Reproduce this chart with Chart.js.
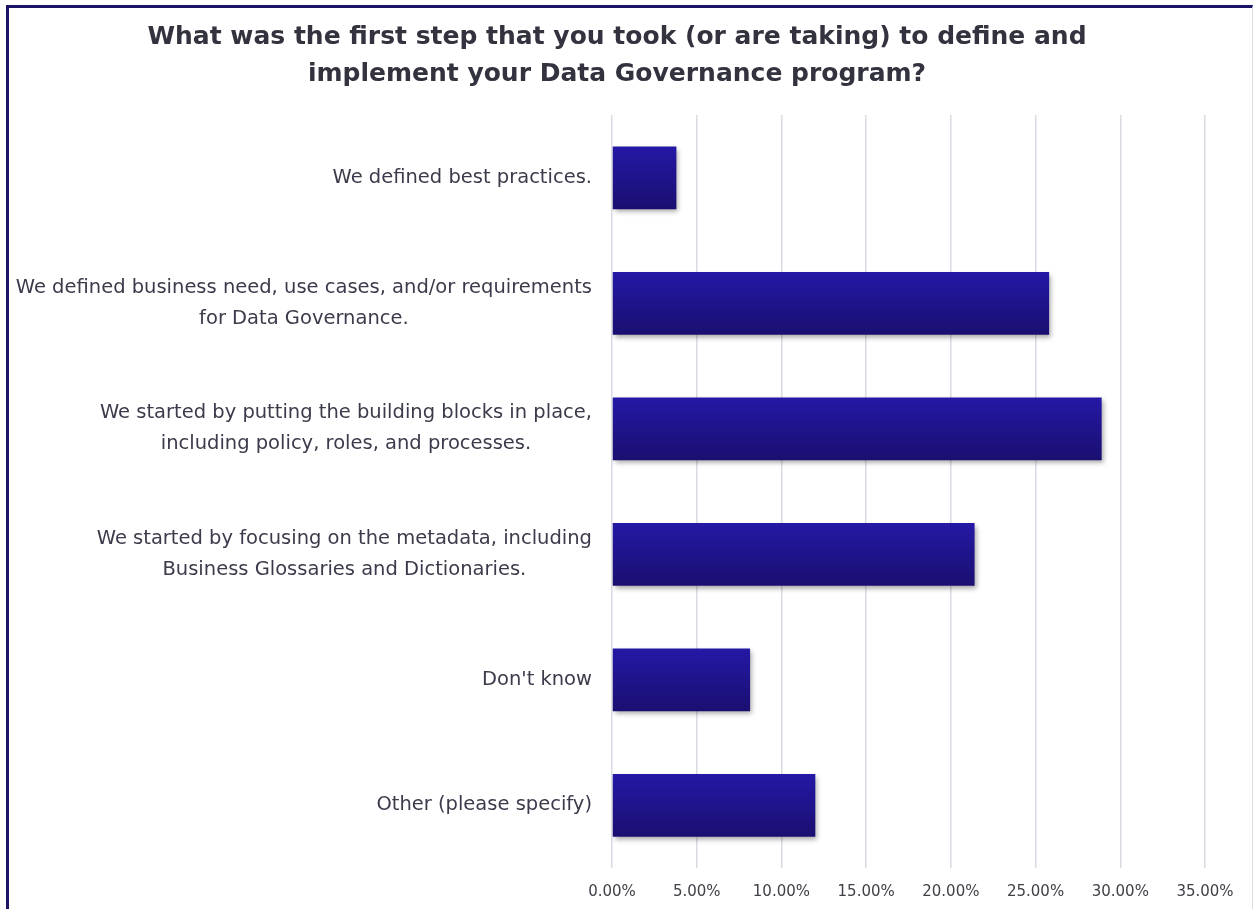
<!DOCTYPE html>
<html>
<head>
<meta charset="utf-8">
<title>First step in Data Governance</title>
<script src="https://cdn.jsdelivr.net/npm/chart.js@4/dist/chart.umd.min.js"></script>
<style>
  html, body { margin: 0; padding: 0; background: #fff; }
  #wrap { position: relative; width: 1253px; height: 909px; overflow: hidden; }
  #frame {
    position: absolute; left: 6px; top: 5px; right: 0; bottom: -10px;
    border-top: 3px solid #1b1464; border-left: 3px solid #1b1464;
    border-right: 1px solid #dcdce4;
  }
  #stepsChart { position: absolute; left: 0; top: 0; }
</style>
</head>
<body>
<div id="wrap">
  <div id="frame"></div>
  <canvas id="stepsChart" width="1253" height="909"></canvas>
</div>
<script>
const titleLines = [
  'What was the first step that you took (or are taking) to define and',
  'implement your Data Governance program?'
];
const categories = [
  ['We defined best practices.'],
  ['We defined business need, use cases, and/or requirements', 'for Data Governance.'],
  ['We started by putting the building blocks in place,', 'including policy, roles, and processes.'],
  ['We started by focusing on the metadata, including', 'Business Glossaries and Dictionaries.'],
  ["Don't know"],
  ['Other (please specify)']
];
const shares = [3.8, 25.8, 28.9, 21.4, 8.15, 12.0];   // percent of respondents
const axisMax = 35;
const axisStep = 5;

const labelFont = '19.5px "DejaVu Sans"';
const labelColor = '#3b3b4b';

// category labels: block right-aligned to the axis, lines centred within the block
const centeredLabels = {
  id: 'centeredLabels',
  afterDraw(chart) {
    const { ctx } = chart;
    const y = chart.scales.y;
    ctx.save();
    ctx.font = labelFont;
    ctx.fillStyle = labelColor;
    ctx.textAlign = 'center';
    ctx.textBaseline = 'middle';
    categories.forEach((lines, i) => {
      const w = Math.max(...lines.map(l => ctx.measureText(l).width));
      const cx = y.right - 20 - w / 2;
      const cy = y.getPixelForTick(i);
      lines.forEach((l, j) => {
        ctx.fillText(l, cx, cy + (j - (lines.length - 1) / 2) * 31);
      });
    });
    ctx.restore();
  }
};

// soft drop shadow under the bars
const barShadow = {
  id: 'barShadow',
  beforeDatasetsDraw(chart) {
    const ctx = chart.ctx;
    ctx.save();
    ctx.shadowColor = 'rgba(0, 0, 0, 0.35)';
    ctx.shadowBlur = 5;
    ctx.shadowOffsetX = 2;
    ctx.shadowOffsetY = 3;
  },
  afterDatasetsDraw(chart) {
    chart.ctx.restore();
  }
};

function barGradient(c) {
  const chart = c.chart;
  const y = chart.scales.y;
  if (!chart.chartArea || !y) return '#1f138c';
  const band = (y.bottom - y.top) / categories.length;
  const h = band * 0.5;
  const mid = y.getPixelForValue(c.dataIndex);
  const g = chart.ctx.createLinearGradient(0, mid - h / 2, 0, mid + h / 2);
  g.addColorStop(0, '#2418a6');
  g.addColorStop(1, '#1a0f70');
  return g;
}

new Chart(document.getElementById('stepsChart'), {
  type: 'bar',
  data: {
    labels: categories,
    datasets: [{
      data: shares,
      backgroundColor: barGradient,
      borderWidth: 0,
      barPercentage: 0.5,
      categoryPercentage: 1
    }]
  },
  options: {
    indexAxis: 'y',
    responsive: false,
    animation: false,
    layout: { padding: { left: 0, right: 19, top: 0, bottom: 0 } },
    plugins: {
      legend: { display: false },
      tooltip: { enabled: false },
      title: {
        display: true,
        text: titleLines,
        color: '#33333f',
        font: { family: '"DejaVu Sans"', size: 25, weight: 'bold', lineHeight: 1.48 },
        padding: { top: 19, bottom: 22 }
      }
    },
    scales: {
      x: {
        min: 0,
        max: axisMax,
        border: { display: false },
        grid: { color: '#dadae2', lineWidth: 1.5, drawTicks: false },
        ticks: {
          stepSize: axisStep,
          padding: 15,
          color: '#404048',
          font: { family: '"DejaVu Sans"', size: 15 },
          callback: v => v.toFixed(2) + '%'
        },
        afterFit(s) {
          s.height = 41;
          s.paddingRight = 48;
        }
      },
      y: {
        grid: { display: false },
        border: { display: false },
        ticks: { display: false },
        afterFit(s) { s.width = 612; }
      }
    }
  },
  plugins: [barShadow, centeredLabels]
});
</script>
</body>
</html>
